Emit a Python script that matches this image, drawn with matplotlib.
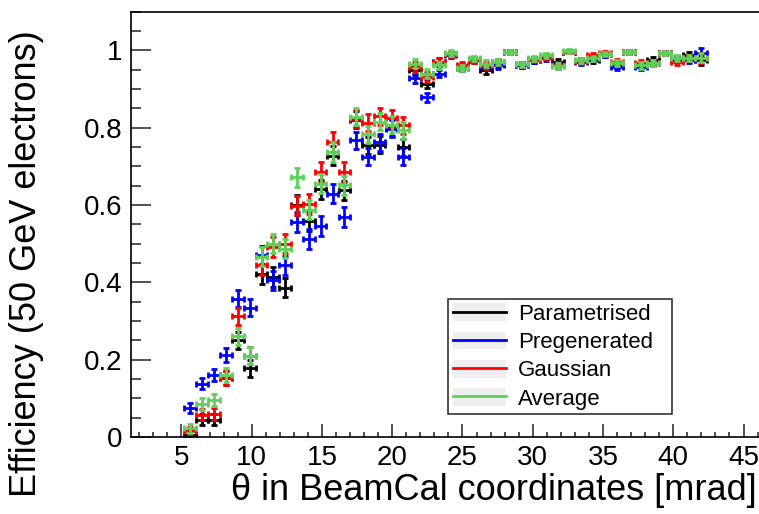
import matplotlib
matplotlib.use('Agg')
import matplotlib.pyplot as plt
from matplotlib.lines import Line2D
from matplotlib.patches import Rectangle
from matplotlib.legend_handler import HandlerTuple
from matplotlib.ticker import MultipleLocator, FuncFormatter

plt.rcParams['font.family'] = ['Liberation Sans', 'DejaVu Sans']

# bin centres [mrad]
theta = [5.6, 6.45, 7.3, 8.15, 9.0, 9.85, 10.7, 11.5, 12.35, 13.2, 14.05,
         14.9, 15.75, 16.6, 17.4, 18.25, 19.1, 19.95, 20.8, 21.6, 22.45,
         23.3, 24.15, 25.0, 25.85, 26.7, 27.55, 28.4, 29.25, 30.1, 30.95,
         31.8, 32.6, 33.45, 34.3, 35.15, 36.0, 36.85, 37.7, 38.55, 39.4,
         40.25, 41.1, 41.95]
theta_halfwidth = 0.42

parametrised = [0.005, 0.045, 0.045, 0.152, 0.25, 0.178, 0.422, 0.414, 0.386,
                0.6, 0.559, 0.641, 0.728, 0.638, 0.82, 0.754, 0.756, 0.80,
                0.75, 0.948, 0.914, 0.97, 0.99, 0.955, 0.974, 0.948, 0.966,
                0.997, 0.962, 0.974, 0.984, 0.97, 0.997, 0.972, 0.975, 0.99,
                0.962, 0.996, 0.962, 0.974, 0.993, 0.978, 0.987, 0.974]
pregenerated = [0.075, 0.138, 0.16, 0.213, 0.358, 0.334, 0.47, 0.405, 0.444,
                0.556, 0.512, 0.546, 0.629, 0.569, 0.767, 0.725, 0.762, 0.797,
                0.725, 0.928, 0.879, 0.94, 0.987, 0.957, 0.976, 0.957, 0.961,
                0.995, 0.962, 0.975, 0.979, 0.962, 0.997, 0.97, 0.979, 0.99,
                0.957, 0.996, 0.958, 0.968, 0.993, 0.978, 0.976, 0.993]
gaussian = [0.015, 0.058, 0.06, 0.152, 0.312, 0.21, 0.444, 0.491, 0.5,
            0.598, 0.603, 0.685, 0.763, 0.685, 0.823, 0.813, 0.83, 0.825,
            0.806, 0.957, 0.931, 0.97, 0.99, 0.961, 0.974, 0.961, 0.97,
            0.996, 0.964, 0.976, 0.984, 0.961, 0.997, 0.972, 0.987, 0.993,
            0.969, 0.996, 0.967, 0.968, 0.993, 0.97, 0.981, 0.98]
average = [0.022, 0.085, 0.095, 0.16, 0.26, 0.21, 0.466, 0.5, 0.487,
           0.672, 0.588, 0.655, 0.737, 0.651, 0.828, 0.783, 0.815, 0.808,
           0.793, 0.966, 0.94, 0.961, 0.993, 0.955, 0.979, 0.966, 0.97,
           0.996, 0.964, 0.979, 0.987, 0.96, 0.998, 0.974, 0.979, 0.991,
           0.967, 0.996, 0.961, 0.968, 0.993, 0.981, 0.981, 0.981]
# statistical uncertainty per bin
yerr = [0.012, 0.015, 0.015, 0.018, 0.022, 0.022, 0.025, 0.025, 0.025,
        0.025, 0.025, 0.025, 0.025, 0.025, 0.022, 0.022, 0.022, 0.022,
        0.022, 0.012, 0.012, 0.01, 0.007, 0.008, 0.007, 0.008, 0.008,
        0.005, 0.007, 0.007, 0.007, 0.008, 0.005, 0.007, 0.007, 0.006,
        0.008, 0.005, 0.008, 0.008, 0.006, 0.008, 0.008, 0.012]

names = ['Parametrised', 'Pregenerated', 'Gaussian', 'Average']
colors = ['black', '#0000ff', '#ff0000', '#5cd358']
series = [parametrised, pregenerated, gaussian, average]

fig = plt.figure(figsize=(7.59, 5.14), dpi=100)
ax = fig.add_axes([131 / 759, 77 / 514, 628 / 759, 425.3 / 514])

for vals, col in zip(series, colors):
    ax.errorbar(theta, vals, xerr=theta_halfwidth, yerr=yerr, fmt='none',
                ecolor=col, elinewidth=2, capsize=2.2, capthick=2)

ax.set_xlim(1.41, 46.1)
ax.set_ylim(0, 1.1)
ax.xaxis.set_major_locator(MultipleLocator(5))
ax.xaxis.set_minor_locator(MultipleLocator(1))
ax.yaxis.set_major_locator(MultipleLocator(0.2))
ax.yaxis.set_minor_locator(MultipleLocator(0.05))
ax.yaxis.set_major_formatter(FuncFormatter(lambda v, p: '%g' % round(v, 2)))

ax.tick_params(which='both', direction='in', top=False, right=False,
               labelsize=20, width=1.2, color='#333333')
ax.tick_params(axis='x', which='major', length=9.2, pad=6)
ax.tick_params(axis='x', which='minor', length=3.8)
ax.tick_params(axis='y', which='major', length=14.4, pad=6)
ax.tick_params(axis='y', which='minor', length=7.2)
for s in ['left', 'bottom', 'top']:
    ax.spines[s].set_linewidth(1.2)
ax.spines['right'].set_visible(False)

fig.text(757 / 759, 1 - 490 / 514, 'θ in BeamCal coordinates [mrad]',
         ha='right', va='center', fontsize=26)
fig.text(27 / 759, 1 - 30 / 514, 'Efficiency (50 GeV electrons)',
         ha='center', va='top', rotation=90, fontsize=26)

handles = []
for col in colors:
    bg = Rectangle((0, 0), 1, 1, facecolor='#eeeeee', edgecolor='none')
    ln = Line2D([], [], color=col, lw=2)
    handles.append((bg, ln))
leg = ax.legend(handles, names, handler_map={tuple: HandlerTuple(ndivide=1)},
                loc='lower left', bbox_to_anchor=(0.505, 0.054, 0.356, 0.263),
                mode='expand', fontsize=16, frameon=True, fancybox=False,
                borderpad=0.2, labelspacing=0.3, handlelength=2.4,
                handleheight=0.85, handletextpad=0.55, borderaxespad=0)
leg.get_frame().set_edgecolor('black')
leg.get_frame().set_linewidth(1.2)

fig.savefig('out.png', dpi=100)
